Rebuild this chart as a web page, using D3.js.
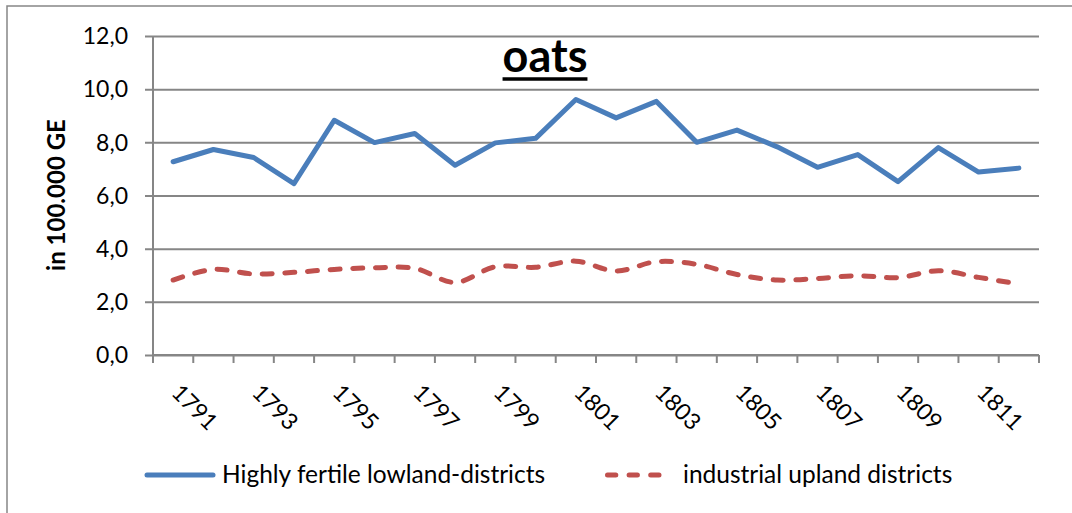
<html>
<head>
<style>
    body { margin: 0; background: #fff; }
    svg { display: block; font-family: Lato, 'Open Sans', sans-serif; }
    .grid line { stroke: #868686; stroke-width: 2; }
    .grid path { display: none; }
</style>
</head>
<body>
<svg width="1072" height="513"></svg>
<script src="https://d3js.org/d3.v7.min.js"></script>
<script>
    // oats, yearly values in 100.000 GE
    let years = d3.range(1791, 1813)
    let lowland = [7.27, 7.73, 7.43, 6.45, 8.83, 7.99, 8.33, 7.14, 7.98, 8.15, 9.61,
                   8.92, 9.54, 8.0, 8.46, 7.83, 7.06, 7.54, 6.52, 7.8, 6.88, 7.03]
    let upland = [2.82, 3.22, 3.05, 3.11, 3.22, 3.28, 3.26, 2.73, 3.32, 3.30, 3.53,
                  3.16, 3.51, 3.41, 3.03, 2.82, 2.88, 2.98, 2.91, 3.17, 2.92, 2.67]
    let yTicks = [0, 2, 4, 6, 8, 10, 12]
    let seriesNames = ["Highly fertile lowland-districts", "industrial upland districts"]

    let svg = d3.select("svg")

    // frame of the chart
    svg.append("rect")
        .attr("x", 7).attr("y", 6)
        .attr("width", 1080).attr("height", 520)
        .style("fill", "none")
        .style("stroke", "#868686")
        .style("stroke-width", 1.5)

    let pLeft = 153, pRight = 1039, pTop = 36, pBottom = 355

    let x = d3.scaleBand().domain(years).range([pLeft, pRight])
    let y = d3.scaleLinear().domain([0, 12]).range([pBottom, pTop])

    // horizontal gridlines + y ticks
    svg.append("g")
        .attr("class", "grid")
        .attr("transform", `translate(${pRight},0)`)
        .call(d3.axisLeft(y).tickValues(yTicks).tickSize(pRight - pLeft + 8).tickFormat(""))

    svg.append("g").selectAll("text")
        .data(yTicks)
        .enter().append("text")
        .attr("x", 128)
        .attr("y", d => y(d))
        .attr("dy", "0.36em")
        .attr("text-anchor", "end")
        .style("font-size", "23px")
        .style("fill", "#000")
        .text(d => d3.format(".1f")(d).replace(".", ","))

    // axes lines
    svg.append("line")
        .attr("x1", pLeft).attr("x2", pLeft).attr("y1", pTop).attr("y2", pBottom)
        .style("stroke", "#868686").style("stroke-width", 2)

    let xAxis = svg.append("g")
        .attr("class", "grid")
        .attr("transform", `translate(0,${pBottom})`)
    xAxis.append("line")
        .attr("x1", pLeft).attr("x2", pRight)
    xAxis.selectAll(".tk")
        .data(years.concat([null]))
        .enter().append("line")
        .attr("x1", d => d === null ? pRight : x(d))
        .attr("x2", d => d === null ? pRight : x(d))
        .attr("y1", 0).attr("y2", 8)

    // rotated year labels (every other year)
    svg.append("g").selectAll("text")
        .data(years.filter((d, i) => i % 2 === 0))
        .enter().append("text")
        .attr("transform", d => `translate(${x(d) + x.bandwidth() / 2 - 3},394) rotate(45)`)
        .style("font-size", "23px")
        .style("fill", "#000")
        .text(d => d)

    // y title
    svg.append("text")
        .attr("transform", "translate(65,195) rotate(-90)")
        .attr("text-anchor", "middle")
        .style("font-size", "24px")
        .style("font-weight", "bold")
        .text("in 100.000 GE")

    // chart title
    let title = svg.append("text")
        .attr("x", 545).attr("y", 72)
        .attr("text-anchor", "middle")
        .style("font-size", "45px")
        .style("font-weight", "bold")
        .text("oats")
    let tb = title.node().getBBox()
    svg.append("line")
        .attr("x1", tb.x).attr("x2", tb.x + tb.width)
        .attr("y1", 79).attr("y2", 79)
        .style("stroke", "#000").style("stroke-width", 3.5)

    // series lines
    let cx = d => x(d) + x.bandwidth() / 2

    let lineStraight = d3.line()
        .x((d, i) => cx(years[i]))
        .y(d => y(d))

    let lineSmooth = d3.line()
        .x((d, i) => cx(years[i]))
        .y(d => y(d))
        .curve(d3.curveCatmullRom.alpha(0.5))

    svg.append("path")
        .attr("d", lineSmooth(upland))
        .style("fill", "none")
        .style("stroke", "#C0504D")
        .style("stroke-width", 5)
        .style("stroke-linecap", "round")
        .style("stroke-dasharray", "10,12.7")

    svg.append("path")
        .attr("d", lineStraight(lowland))
        .style("fill", "none")
        .style("stroke", "#4A7EBB")
        .style("stroke-width", 5)
        .style("stroke-linejoin", "round")
        .style("stroke-linecap", "round")

    // legend
    let legend = svg.append("g")
    legend.append("line")
        .attr("x1", 147).attr("x2", 213).attr("y1", 475).attr("y2", 475)
        .style("stroke", "#4A7EBB").style("stroke-width", 5).style("stroke-linecap", "round")
    legend.append("text")
        .attr("x", 222).attr("y", 483)
        .style("font-size", "24.5px")
        .text(seriesNames[0])
    legend.append("line")
        .attr("x1", 607.5).attr("x2", 663).attr("y1", 475).attr("y2", 475)
        .style("stroke", "#C0504D").style("stroke-width", 5).style("stroke-linecap", "round")
        .style("stroke-dasharray", "8.3,13.3")
    legend.append("text")
        .attr("x", 683).attr("y", 483)
        .style("font-size", "24.5px")
        .text(seriesNames[1])
</script>
</body>
</html>
